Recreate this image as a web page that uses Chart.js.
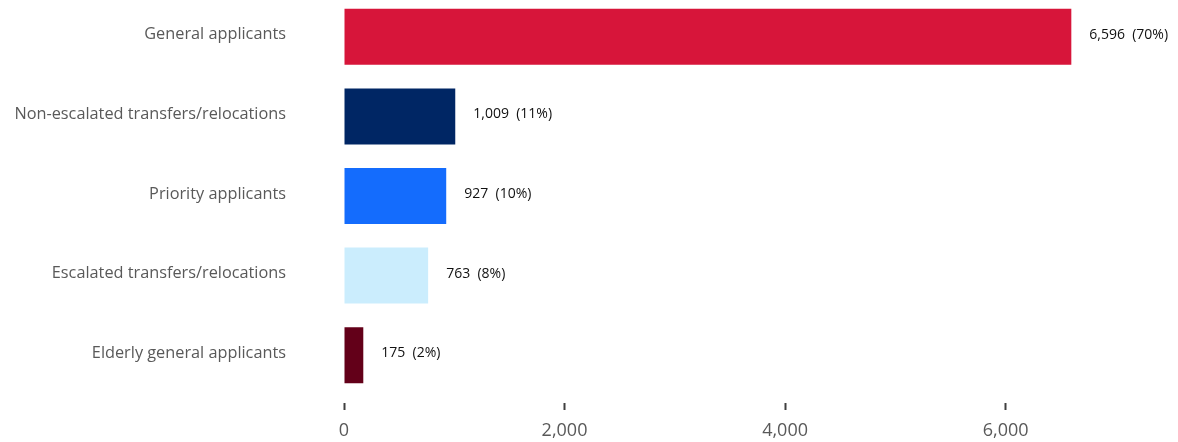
<!DOCTYPE html>
<html>
<head>
<meta charset="utf-8">
<script src="https://cdn.jsdelivr.net/npm/chart.js@4.4.1/dist/chart.umd.min.js"></script>
<style>
  html, body { margin: 0; padding: 0; background: #fff; overflow: hidden; }
  #wrap { position: absolute; left: 0; top: -3px; width: 1178px; height: 445px; }
</style>
</head>
<body>
<div id="wrap"><canvas id="applicantsChart" width="1178" height="445"></canvas></div>
<script>
const categories = [
  "General applicants",
  "Non-escalated transfers/relocations",
  "Priority applicants",
  "Escalated transfers/relocations",
  "Elderly general applicants",
];
const counts = [6596, 1009, 927, 763, 175];
const barColors = ["#D7153A", "#002664", "#146CFD", "#CBEDFD", "#630019"];
const xTicks = [0, 2000, 4000, 6000];

const FONT = "'Open Sans', sans-serif";
const total = counts.reduce((a, b) => a + b, 0);

// value + share labels to the right of each bar
const barLabels = {
  id: "barLabels",
  afterDatasetsDraw(chart) {
    const { ctx } = chart;
    const meta = chart.getDatasetMeta(0);
    ctx.save();
    ctx.font = `14px ${FONT}`;
    ctx.fillStyle = "#111";
    ctx.textAlign = "left";
    ctx.textBaseline = "middle";
    meta.data.forEach((bar, i) => {
      const v = counts[i];
      const pct = Math.round((v / total) * 100);
      ctx.fillText(`${v.toLocaleString("en-US")}  (${pct}%)`, bar.x + 18, bar.y - 2);
    });
    ctx.restore();
  },
};

new Chart(document.getElementById("applicantsChart"), {
  type: "bar",
  data: {
    labels: categories,
    datasets: [
      {
        data: counts,
        backgroundColor: barColors,
        borderWidth: 0,
        barPercentage: 0.704,
        categoryPercentage: 1,
      },
    ],
  },
  options: {
    indexAxis: "y",
    responsive: false,
    animation: false,
    layout: { padding: { left: 0, right: 7, top: 0, bottom: 0 } },
    plugins: {
      legend: { display: false },
      tooltip: { enabled: false },
    },
    scales: {
      x: {
        min: 0,
        max: 7500,
        afterBuildTicks: (scale) => {
          scale.ticks = xTicks.map((v) => ({ value: v }));
        },
        afterFit: (scale) => {
          scale.height = 47;
          scale.paddingLeft = 0;
          scale.paddingRight = 0;
        },
        border: { display: false },
        grid: {
          drawOnChartArea: false,
          drawTicks: true,
          tickLength: 16,
          tickWidth: 2,
          tickColor: "#404040",
          tickBorderDash: [0, 8, 7, 100],
        },
        ticks: {
          padding: 9,
          color: "#595959",
          font: { family: FONT, size: 18 },
          callback: (v) => Number(v).toLocaleString("en-US"),
          maxRotation: 0,
        },
      },
      y: {
        afterFit: (scale) => {
          scale.width = 344;
          scale.paddingTop = 0;
          scale.paddingBottom = 0;
        },
        border: { display: false },
        grid: { display: false, drawTicks: false },
        ticks: {
          padding: 58,
          labelOffset: -2,
          color: "#595959",
          font: { family: FONT, size: 16.3 },
        },
      },
    },
  },
  plugins: [barLabels],
});
</script>
</body>
</html>
